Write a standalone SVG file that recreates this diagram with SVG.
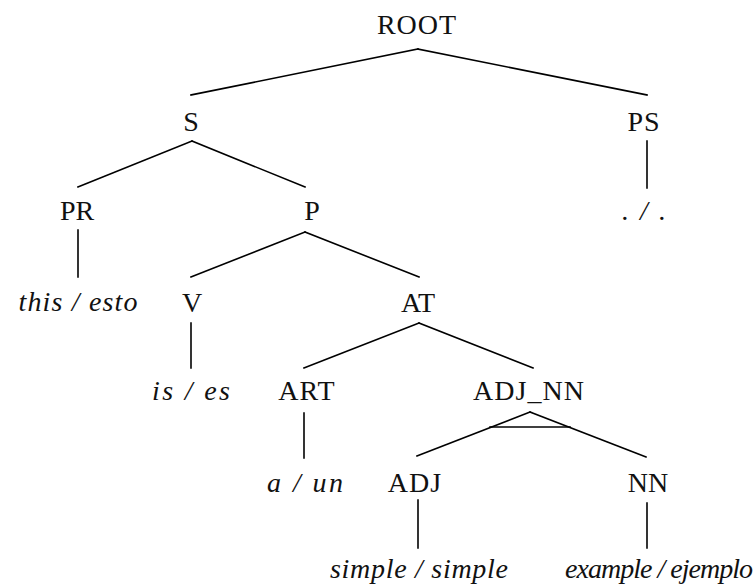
<svg xmlns="http://www.w3.org/2000/svg" width="756" height="587" viewBox="0 0 756 587">
<rect width="756" height="587" fill="#fff"/>
<g id="connectors" stroke="#000" stroke-width="1.6" fill="none" stroke-linecap="square">
<line x1="418" y1="49" x2="191" y2="95"/>
<line x1="418" y1="49" x2="647" y2="95"/>
<line x1="192" y1="141" x2="78" y2="187"/>
<line x1="192" y1="141" x2="305" y2="187"/>
<line x1="647" y1="141" x2="647" y2="188"/>
<line x1="78" y1="230" x2="78" y2="277"/>
<line x1="305" y1="232" x2="191" y2="277"/>
<line x1="305" y1="232" x2="419" y2="277"/>
<line x1="191" y1="323" x2="191" y2="368"/>
<line x1="419" y1="323" x2="304" y2="368"/>
<line x1="419" y1="323" x2="533" y2="368"/>
<line x1="304" y1="413" x2="304" y2="458"/>
<line x1="530" y1="412" x2="417" y2="456"/>
<line x1="530" y1="412" x2="646" y2="457"/>
<line x1="490" y1="427" x2="570" y2="427"/>
<line x1="418" y1="500" x2="418" y2="548"/>
<line x1="647" y1="503" x2="647" y2="548"/>
</g>
<g id="nodes" font-family="Liberation Serif, serif" font-size="28" fill="#111" text-anchor="middle">
<g id="n-root"><text x="417" y="34" letter-spacing="1">ROOT</text></g>
<g id="n-s"><text x="191" y="131">S</text></g>
<g id="n-ps"><text x="644" y="131" letter-spacing="1">PS</text></g>
<g id="n-pr"><text x="77" y="220">PR</text></g>
<g id="n-p"><text x="312" y="220">P</text></g>
<g id="n-period"><text font-style="italic" x="644" y="220" textLength="44" lengthAdjust="spacing">. / .</text></g>
<g id="n-this"><text font-style="italic" x="78" y="311" textLength="119" lengthAdjust="spacing">this / esto</text></g>
<g id="n-v"><text x="192" y="312">V</text></g>
<g id="n-at"><text x="418" y="312">AT</text></g>
<g id="n-is"><text font-style="italic" x="191" y="400" textLength="78" lengthAdjust="spacing">is / es</text></g>
<g id="n-art"><text x="307" y="400" letter-spacing="1">ART</text></g>
<g id="n-adjnn"><text x="529" y="400" letter-spacing="1">ADJ_NN</text></g>
<g id="n-a"><text font-style="italic" x="305" y="492" textLength="76" lengthAdjust="spacing">a / un</text></g>
<g id="n-adj"><text x="415" y="492" letter-spacing="1">ADJ</text></g>
<g id="n-nn"><text x="648" y="492">NN</text></g>
<g id="n-simple"><text font-style="italic" x="419" y="578" textLength="178" lengthAdjust="spacing">simple / simple</text></g>
<g id="n-example"><text font-style="italic" x="659" y="578" textLength="188" lengthAdjust="spacing">example / ejemplo</text></g>
</g>
</svg>
